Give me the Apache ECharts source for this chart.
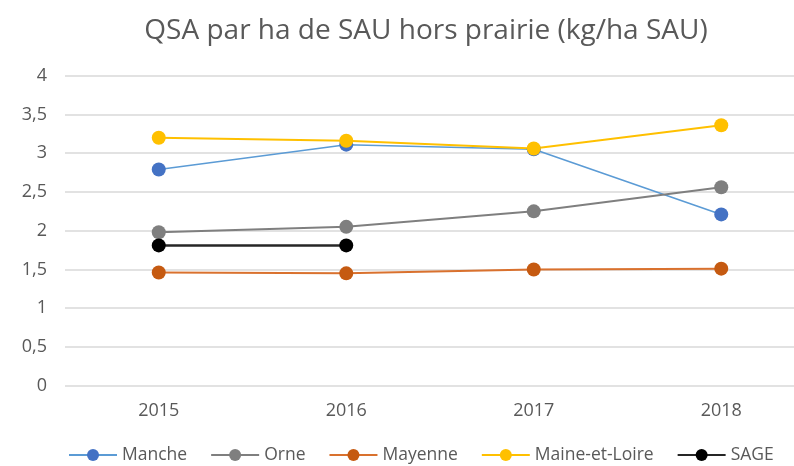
<!DOCTYPE html>
<html>
<head>
<meta charset="utf-8">
<script src="https://cdn.jsdelivr.net/npm/echarts@6/dist/echarts.min.js"></script>
<style>
  html, body { margin: 0; padding: 0; background: #ffffff; }
  #chart { width: 794px; height: 466px; }
</style>
</head>
<body>
<div id="chart"></div>
<script>
// QSA per hectare of SAU (excluding grassland), by department
const years = ['2015', '2016', '2017', '2018'];
const manche = [2.79, 3.11, 3.05, 2.21];
const orne = [1.98, 2.05, 2.25, 2.56];
const mayenne = [1.46, 1.45, 1.50, 1.51];
const maineEtLoire = [3.20, 3.16, 3.06, 3.36];
const sage = [1.81, 1.81, null, null];
const yTicks = [0, 0.5, 1, 1.5, 2, 2.5, 3, 3.5, 4];

const textColor = '#595959';
const font = 'Open Sans';

function lineSeries(name, data, lineColor, markerColor, width) {
  return {
    name: name,
    type: 'line',
    data: data,
    symbol: 'circle',
    symbolSize: 14,
    showSymbol: true,
    connectNulls: false,
    lineStyle: { color: lineColor, width: width },
    itemStyle: { color: markerColor },
    emphasis: { disabled: true },
    z: 3
  };
}

const chart = echarts.init(document.getElementById('chart'), null, { renderer: 'canvas' });
chart.setOption({
  animation: false,
  backgroundColor: '#ffffff',
  title: {
    text: 'QSA par ha de SAU hors prairie (kg/ha SAU)',
    left: 421,
    textAlign: 'center',
    top: 12,
    textStyle: { color: textColor, fontFamily: font, fontSize: 28, fontWeight: 'normal' }
  },
  grid: { left: 65, right: -21, top: 75.7, bottom: 80.3, containLabel: false, outerBoundsMode: 'none' },
  xAxis: {
    type: 'category',
    data: years,
    boundaryGap: true,
    axisLine: { show: false },
    axisTick: { show: false },
    axisLabel: { color: textColor, fontFamily: font, fontSize: 18, margin: 16 }
  },
  yAxis: {
    type: 'value',
    min: 0,
    max: 4,
    interval: 0.5,
    axisLine: { show: false },
    axisTick: { show: false },
    splitLine: { lineStyle: { color: '#d9d9d9', width: 1.5 } },
    axisLabel: {
      color: textColor, fontFamily: font, fontSize: 18, margin: 18,
      formatter: v => {
        const t = yTicks.find(x => Math.abs(x - v) < 1e-9);
        return String(t !== undefined ? t : v).replace('.', ',');
      }
    }
  },
  legend: {
    top: 446,
    left: 68,
    width: 740,
    padding: 0,
    itemWidth: 48,
    itemHeight: 15,
    itemGap: 23,
    textStyle: { color: textColor, fontFamily: font, fontSize: 17.5 },
    data: ['Manche', 'Orne', 'Mayenne', 'Maine-et-Loire', 'SAGE']
  },
  series: [
    lineSeries('Manche', manche, '#5b9bd5', '#4472c4', 1.6),
    lineSeries('Orne', orne, '#7f7f7f', '#7f7f7f', 2),
    lineSeries('Mayenne', mayenne, '#d9712e', '#c55a11', 2),
    lineSeries('Maine-et-Loire', maineEtLoire, '#ffc000', '#ffc000', 2),
    lineSeries('SAGE', sage, '#262626', '#000000', 2.5)
  ]
});
</script>
</body>
</html>
